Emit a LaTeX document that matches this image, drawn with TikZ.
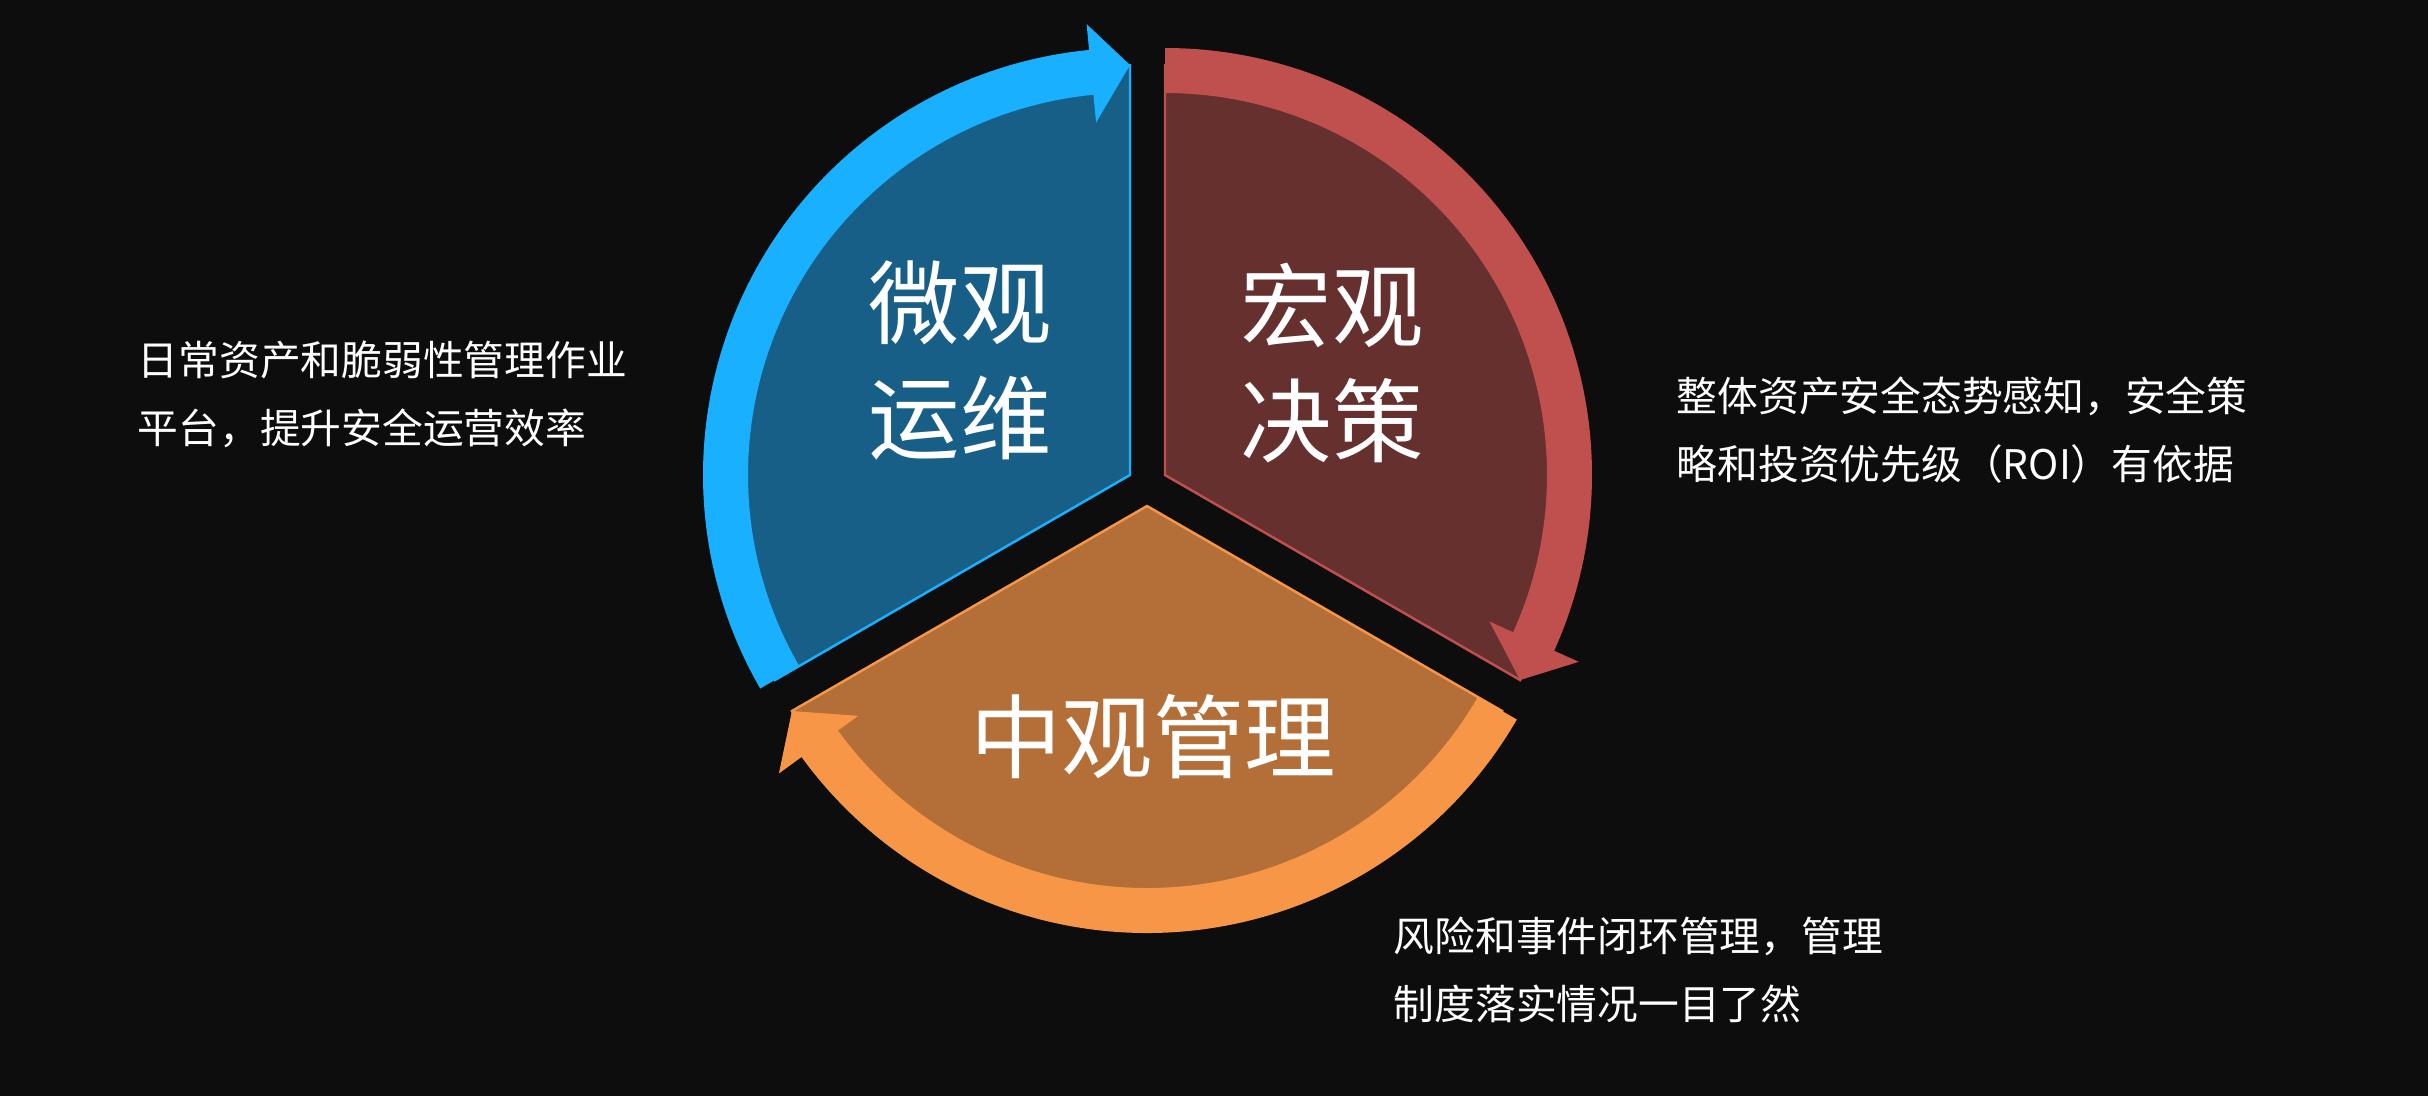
\documentclass[tikz,border=0pt]{standalone}
\usepackage{fontspec}
\setmainfont{Noto Sans CJK SC}
\definecolor{bgdark}{HTML}{0D0D0D}
\definecolor{blueband}{HTML}{18B0FF}
\definecolor{bluefill}{HTML}{175F86}
\definecolor{redband}{HTML}{C0504D}
\definecolor{redfill}{HTML}{66302F}
\definecolor{orangeband}{HTML}{F79646}
\definecolor{orangefill}{HTML}{B36F37}
\tikzset{
  bigtext/.style={text=white, align=center, inner sep=0pt,
    font=\fontsize{26pt}{32.7pt}\selectfont},
  sidetext/.style={text=white, align=left, anchor=west, inner sep=0pt,
    font=\fontsize{11.6pt}{19.3pt}\selectfont},
  sector/.style={line width=0.7pt}
}
\begin{document}
\begin{tikzpicture}
  \useasboundingbox (0,-10.96) rectangle (24.28,0);
  \fill[bgdark] (0,-10.96) rectangle (24.28,0);
  \coordinate (bv) at (11.30,-4.75);
  \coordinate (rv) at (11.65,-4.75);
  \coordinate (ov) at (11.47,-5.06);
  % blue part
  \begin{scope}[shift={(bv)}]
    \filldraw[sector, fill=bluefill, draw=blueband] (0,0) -- (90:4.1) arc[start angle=90, end angle=210, radius=4.1] -- cycle;
    \fill[blueband] (210:4.27) arc[start angle=210, end angle=95.5, radius=4.27] -- (95.5:4.53) -- (90:4.1) -- (95.5:3.54) -- (95.5:3.82) arc[start angle=95.5, end angle=210, radius=3.82] -- cycle;
  \end{scope}
  % red part
  \begin{scope}[shift={(rv)}]
    \filldraw[sector, fill=redfill, draw=redband] (0,0) -- (90:4.1) arc[start angle=90, end angle=-30, radius=4.1] -- cycle;
    \fill[redband] (90:4.27) arc[start angle=90, end angle=-24.3, radius=4.27] -- (-24.3:4.54) -- (-30:4.1) -- (-24.3:3.56) -- (-24.3:3.82) arc[start angle=-24.3, end angle=90, radius=3.82] -- cycle;
  \end{scope}
  % orange part
  \begin{scope}[shift={(ov)}]
    \filldraw[sector, fill=orangefill, draw=orangeband] (0,0) -- (-30:4.1) arc[start angle=-30, end angle=-150, radius=4.1] -- cycle;
    \fill[orangeband] (-30:4.27) arc[start angle=-30, end angle=-144, radius=4.27] -- (-144:4.55) -- (-150:4.1) -- (-144:3.57) -- (-144:3.82) arc[start angle=-144, end angle=-30, radius=3.82] -- cycle;
  \end{scope}
  \node[bigtext] (wei) at (9.60,-3.60) {微观\\运维};
  \node[bigtext] (hong) at (13.32,-3.63) {宏观\\决策};
  \node[bigtext] (zhong) at (11.53,-7.37) {中观管理};
  \node[sidetext] (weidesc) at (1.37,-3.94) {日常资产和脆弱性管理作业\\平台，提升安全运营效率};
  \node[sidetext] (hongdesc) at (16.76,-4.30) {整体资产安全态势感知，安全策\\略和投资优先级（ROI）有依据};
  \node[sidetext] (zhongdesc) at (13.93,-9.70) {风险和事件闭环管理，管理\\制度落实情况一目了然};
\end{tikzpicture}
\end{document}
